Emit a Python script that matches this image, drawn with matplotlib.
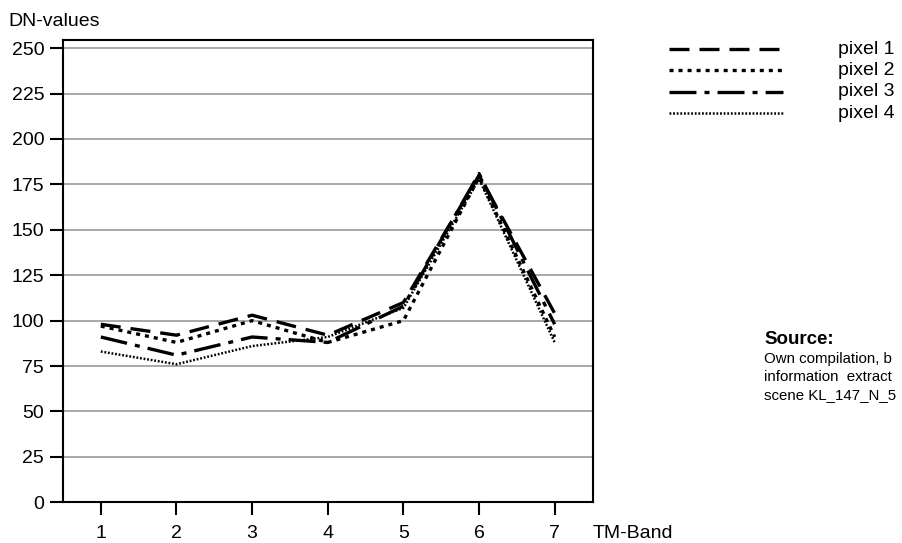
import matplotlib
matplotlib.use("Agg")
import matplotlib.pyplot as plt
from matplotlib.lines import Line2D

plt.rcParams['font.family'] = ['Liberation Sans', 'DejaVu Sans']
plt.rcParams['lines.scale_dashes'] = False

bands = [1, 2, 3, 4, 5, 6, 7]
pixel1 = [98, 92, 103, 92, 110, 180, 104]
pixel2 = [97, 88, 100, 88, 100, 179, 91]
pixel3 = [91, 81, 91, 88, 108, 181, 98]
pixel4 = [83, 76, 86, 91, 107, 178, 88]
labels = ['pixel 1', 'pixel 2', 'pixel 3', 'pixel 4']
yticks = [0, 25, 50, 75, 100, 125, 150, 175, 200, 225, 250]

styles = [
    dict(lw=2.4, dashes=(14.4, 7.2)),
    dict(lw=2.4, dashes=(2.9, 3.6)),
    dict(lw=2.4, dashes=(19.4, 5.8, 3.6, 5.8)),
    dict(lw=1.8, dashes=(1.3, 1.3)),
]

fig = plt.figure(figsize=(9.03, 5.43), dpi=100)
ax = fig.add_axes([63 / 903, 1 - 502.3 / 543, (592.5 - 63) / 903, (502.3 - 40) / 543])

for vals, st in zip([pixel1, pixel2, pixel3, pixel4], styles):
    ax.plot(bands, vals, color='black', solid_capstyle='butt',
            dash_capstyle='butt', **st)

ax.set_xlim(0.5, 7.5)
ax.set_ylim(0, 254.5)
ax.set_yticks(yticks)
ax.set_xticks(bands)
ax.yaxis.grid(True, color='#9a9a9a', lw=1.2)
ax.set_axisbelow(True)
for sp in ax.spines.values():
    sp.set_linewidth(1.5)
    sp.set_color('black')
ax.tick_params(axis='y', direction='out', length=9.5, width=1.5, pad=4, labelsize=14)
ax.tick_params(axis='x', direction='out', length=9.5, width=1.5, pad=7, labelsize=14)

fig.text(8 / 903, 1 - 22 / 543, 'DN-values', fontsize=14, ha='left', va='center')
fig.text(593 / 903, 1 - 533 / 543, 'TM-Band', fontsize=14, ha='left', va='center')

# legend
rows = [49, 70.5, 92, 113]
for lab, st, yy in zip(labels, styles, rows):
    yf = 1 - yy / 543
    fig.add_artist(Line2D([669 / 903, 783 / 903], [yf, yf], color='black',
                          dash_capstyle='butt', **st))
    fig.text(838 / 903, yf, lab, fontsize=14, ha='left', va='center')

fig.text(764 / 903, 1 - 340 / 543, 'Source:', fontsize=13.5, fontweight='bold',
         ha='left', va='center')
body = ['Own compilation, b', 'information  extract', 'scene KL_147_N_5']
for i, line in enumerate(body):
    fig.text(764 / 903, 1 - (359 + 18 * i) / 543, line,
             fontsize=10.8, ha='left', va='center')

fig.savefig('out.png', dpi=100)
